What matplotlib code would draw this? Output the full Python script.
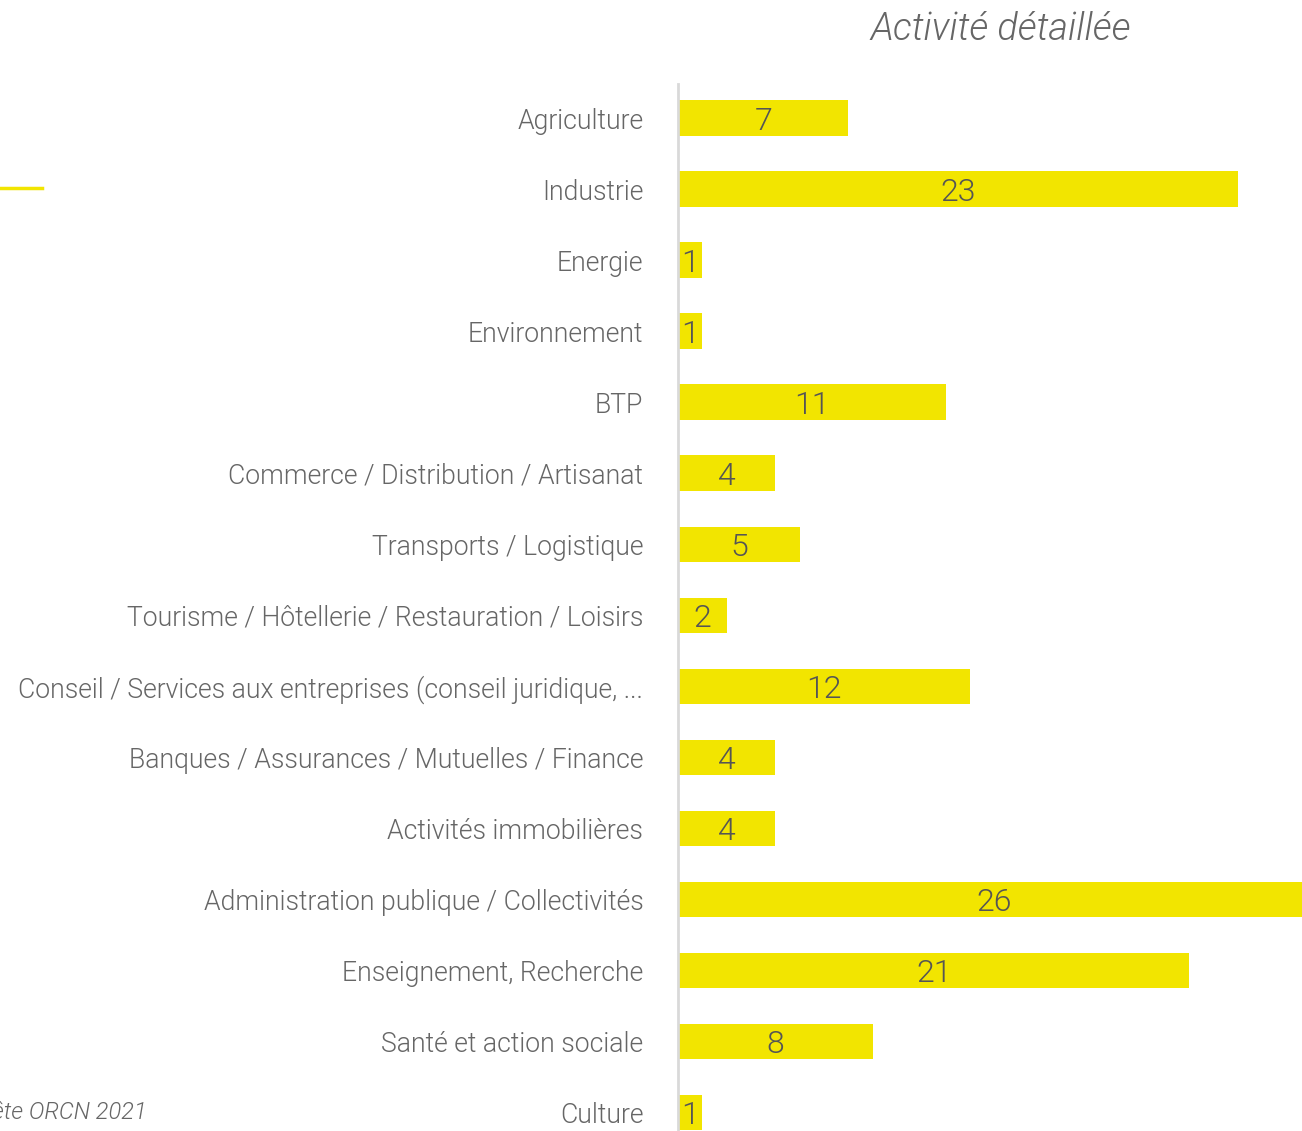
import matplotlib.pyplot as plt
from matplotlib.lines import Line2D

# Données
categories = [
    "Agriculture",
    "Industrie",
    "Energie",
    "Environnement",
    "BTP",
    "Commerce / Distribution / Artisanat",
    "Transports / Logistique",
    "Tourisme / Hôtellerie / Restauration / Loisirs",
    "Conseil / Services aux entreprises (conseil juridique, ...",
    "Banques / Assurances / Mutuelles / Finance",
    "Activités immobilières",
    "Administration publique / Collectivités",
    "Enseignement, Recherche",
    "Santé et action sociale",
    "Culture",
]
values = [7, 23, 1, 1, 11, 4, 5, 2, 12, 4, 4, 26, 21, 8, 1]

title = "Activité détaillée"
source = "Source : Enquête ORCN 2021"

yellow = "#f2e500"
grey_txt = "#666666"

plt.rcParams['font.family'] = ['Roboto', 'DejaVu Sans']

W, H = 1302, 1131
fig = plt.figure(figsize=(W / 100, H / 100), dpi=100)

# axes placed in pixel terms
left_px, top_px = 678, 84
ax = fig.add_axes([left_px / W, 0, 1 - left_px / W, (H - top_px) / H])

pos = range(len(categories))
bars = ax.barh(pos, values, height=0.5, color=yellow, clip_on=False)

ax.set_xlim(0, (W - left_px) / 24.35)
ax.set_ylim(14.26, -0.48)

for b, v in zip(bars, values):
    ax.text(b.get_x() + b.get_width() / 2, b.get_y() + b.get_height() / 2, str(v),
            ha='center', va='center_baseline', fontsize=23, fontweight=300,
            color='#555555', clip_on=False)

ax.set_yticks(list(pos))
ax.set_yticklabels(categories, fontsize=19.2, fontweight=300, color=grey_txt)
ax.tick_params(axis='y', length=0, pad=25)
ax.set_xticks([])

for s in ['top', 'right', 'bottom']:
    ax.spines[s].set_visible(False)
ax.spines['left'].set_color('#d9d9d9')
ax.spines['left'].set_linewidth(2)

fig.text(1001 / W, 1 - 29 / H, title, ha='center', va='center', fontsize=27.2,
         fontstyle='italic', fontweight=300, color=grey_txt)
fig.text(147 / W, 1 - 1113 / H, source, ha='right', va='center', fontsize=17,
         fontstyle='italic', fontweight=300, color=grey_txt)

fig.add_artist(Line2D([0, 42 / W], [1 - 188 / H, 1 - 188 / H], color=yellow, lw=2.5))

fig.savefig("out.png", dpi=100)
